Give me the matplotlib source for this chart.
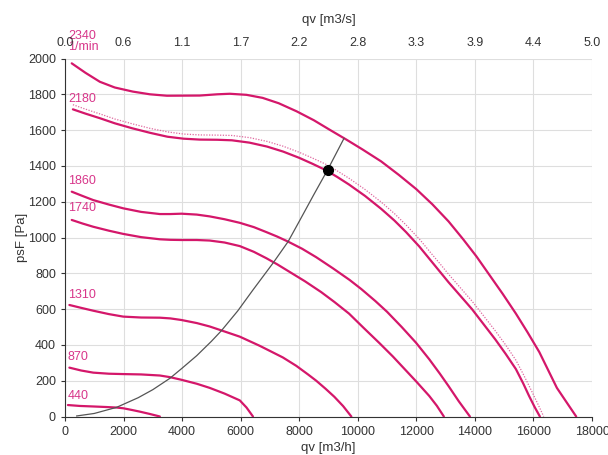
import matplotlib
matplotlib.use("Agg")
import matplotlib.pyplot as plt

# ---- data ----
speeds = ["2340\n1/min", "2180", "1860", "1740", "1310", "870", "440"]

q_2340 = [230, 700, 1190, 1700, 2320, 2900, 3480, 4600, 5200, 5630, 6200, 6750, 7300, 7910, 8500, 9040, 9600, 10160,
          10800, 11400, 12000, 12550, 13100, 13600, 14050, 14500, 14950, 15400, 15800, 16200, 16500, 16800, 17150, 17460]
p_2340 = [1973, 1920, 1870, 1838, 1815, 1800, 1792, 1793, 1800, 1803, 1797, 1780, 1750, 1705, 1655, 1602, 1548, 1492,
          1425, 1350, 1270, 1185, 1090, 990, 895, 790, 685, 575, 470, 360, 260, 160, 75, 0]

q_2180 = [270, 700, 1200, 1700, 2300, 2900, 3500, 4050, 4600, 5200, 5700, 6300, 6900, 7450, 8000, 8450, 8900, 9300,
          9700, 10250, 10800, 11250, 11650, 12100, 12500, 12800, 13100, 13500, 13900, 14300, 14700, 15050, 15400,
          15650, 15850, 16050, 16220]
p_2180 = [1716, 1692, 1666, 1638, 1610, 1585, 1563, 1552, 1547, 1546, 1543, 1530, 1508, 1480, 1445, 1412, 1377, 1338,
          1296, 1232, 1160, 1095, 1030, 950, 870, 810, 750, 675, 600, 515, 430, 350, 265,
          185, 115, 50, 0]

q_dot = [270, 700, 1200, 1700, 2300, 2900, 3500, 4050, 4600, 5200, 5700, 6300, 6900, 7450, 8000, 8450, 8900, 9300,
         9700, 10250, 10800, 11250, 11650, 12100, 12500, 12800, 13100, 13500, 13900, 14300, 14700, 15050, 15400,
         15650, 15900, 16150, 16350]
p_dot = [1742, 1717, 1690, 1662, 1635, 1610, 1590, 1578, 1573, 1572, 1570, 1558, 1537, 1510, 1476, 1444, 1410, 1372,
         1331, 1268, 1198, 1134, 1070, 992, 913, 855, 795, 720, 645, 562, 478, 400, 315,
         237, 155, 70, 0]

q_1860 = [230, 600, 965, 1500, 1990, 2600, 3240, 3600, 3980, 4500, 4940, 5450, 5970, 6450, 6880, 7250, 7620, 8100,
          8580, 9150, 9720, 10120, 10600, 11000, 11500, 11990, 12440, 12800, 13100, 13450, 13830]
p_1860 = [1256, 1232, 1209, 1184, 1163, 1143, 1131, 1131, 1133, 1128, 1118, 1102, 1082, 1058, 1030, 1005, 977, 937,
          890, 828, 763, 712, 645, 585, 500, 412, 320, 240, 170, 85, 0]

q_1740 = [230, 600, 965, 1500, 1990, 2600, 3240, 3600, 3980, 4500, 4940, 5450, 5970, 6450, 6880, 7250, 7620, 8200,
          8750, 9200, 9700, 10200, 10740, 11200, 11600, 12000, 12440, 12700, 12940]
p_1740 = [1098, 1078, 1060, 1038, 1020, 1002, 990, 987, 986, 986, 983, 972, 952, 920, 884, 850, 813, 755,
          695, 640, 575, 495, 410, 335, 265, 195, 115, 60, 0]

q_1310 = [150, 550, 965, 1500, 1990, 2600, 3240, 3600, 3980, 4500, 4940, 5340, 5970, 6650, 7100, 7440, 7900, 8300,
          8580, 8900, 9200, 9500, 9780]
p_1310 = [623, 607, 591, 572, 558, 553, 552, 548, 539, 522, 503, 481, 446, 395, 358, 330, 283, 235,
          200, 155, 110, 58, 0]

q_870 = [150, 550, 965, 1500, 1990, 2600, 3240, 3580, 3980, 4500, 4940, 5450, 5970, 6200, 6420]
p_870 = [273, 257, 245, 239, 237, 235, 229, 220, 205, 183, 160, 128, 90, 50, 0]

q_440 = [100, 500, 965, 1400, 1760, 1990, 2300, 2560, 2900, 3240]
p_440 = [64, 59, 56, 53, 50, 46, 36, 27, 14, 0]

q_sys = [400, 1000, 1760, 2500, 3000, 3580, 4000, 4500, 5000, 5340, 5900, 6420, 7100, 7620, 8000, 8500, 8970, 9530]
p_sys = [3, 17, 51, 105, 150, 213, 270, 340, 420, 479, 590, 707, 856, 977, 1090, 1240, 1378, 1554]

q_op = [8970]
p_op = [1378]

x_ticks = [0, 2000, 4000, 6000, 8000, 10000, 12000, 14000, 16000, 18000]
top_labels = ["0.0", "0.6", "1.1", "1.7", "2.2", "2.8", "3.3", "3.9", "4.4", "5.0"]
y_ticks = [0, 200, 400, 600, 800, 1000, 1200, 1400, 1600, 1800, 2000]

label_pos = [(100, 2030), (100, 1740), (100, 1282), (100, 1132), (100, 648), (80, 298), (80, 83)]

# ---- style ----
plt.rcParams['font.family'] = ['Liberation Sans', 'DejaVu Sans']

curve_c = '#d4176a'
label_c = '#d8368a'
fs = 9

fig = plt.figure(figsize=(6.08, 4.55), dpi=100)
ax = fig.add_axes([65/608, 1-416.5/455, 527/608, 358/455])

ax.set_xlim(0, 18000)
ax.set_ylim(0, 2000)
ax.set_xticks(x_ticks)
ax.set_yticks(y_ticks)
ax.grid(True, color='#dedede', linewidth=0.8)
ax.set_axisbelow(True)
for s in ['top', 'right']:
    ax.spines[s].set_visible(False)
ax.spines['left'].set_color('#333333')
ax.spines['bottom'].set_color('#333333')
ax.tick_params(axis='both', labelsize=fs, colors='#333333', length=3, width=0.8)
ax.tick_params(axis='x', pad=4)

curves = [(q_2340, p_2340), (q_2180, p_2180), (q_1860, p_1860), (q_1740, p_1740),
          (q_1310, p_1310), (q_870, p_870), (q_440, p_440)]
for q, p in curves:
    ax.plot(q, p, color=curve_c, lw=1.6, solid_capstyle='round', solid_joinstyle='round', zorder=3)
ax.plot(q_dot, p_dot, color='#e06aa0', lw=0.9, ls=(0, (1, 1.2)), zorder=2)
ax.plot(q_sys, p_sys, color='#555555', lw=0.9, zorder=4)
ax.plot(q_op, p_op, 'o', color='black', ms=7, zorder=5)

for s, (x, y) in zip(speeds, label_pos):
    ax.text(x, y, s, color=label_c, fontsize=fs, ha='left', va='bottom',
            linespacing=0.85, zorder=6, clip_on=False)

ax.set_ylabel('psF [Pa]', fontsize=fs+0.5, color='#333333', labelpad=0)
ax.set_xlabel('qv [m3/h]', fontsize=fs+0.5, color='#333333', labelpad=3)

ax2 = ax.twiny()
ax2.set_xlim(ax.get_xlim())
ax2.set_xticks(x_ticks)
ax2.set_xticklabels(top_labels)
ax2.tick_params(axis='x', labelsize=fs, colors='#333333', length=0, pad=7)
for s in ['top', 'right', 'left', 'bottom']:
    ax2.spines[s].set_visible(False)
ax2.set_xlabel('qv [m3/s]', fontsize=fs+0.5, color='#333333', labelpad=10)

fig.savefig('out.png', dpi=100, facecolor='white')
